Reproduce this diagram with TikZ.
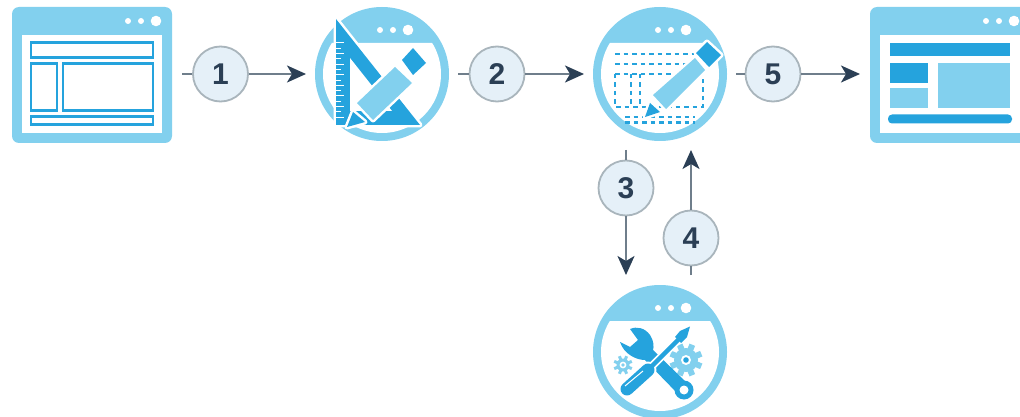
\documentclass[tikz,border=0pt]{standalone}
\usepackage{fontspec}
\setmainfont{Liberation Sans}
\usetikzlibrary{arrows.meta}
\definecolor{lightb}{HTML}{82D0EE}
\definecolor{darkb}{HTML}{25A3DD}
\definecolor{ink}{HTML}{2B3F55}
\definecolor{conn}{HTML}{6F7E8B}
\definecolor{badgefill}{HTML}{E5F0F8}
\definecolor{badgeline}{HTML}{A9B5BC}
\tikzset{
  x=1pt,y=-1pt,
  numbadge/.style={circle,draw=badgeline,fill=badgefill,line width=1.8pt,minimum size=55pt,inner sep=0pt,
    font=\fontsize{30}{30}\selectfont\bfseries,text=ink},
  anchorwin/.style={rectangle,minimum width=160pt,minimum height=136pt,inner sep=0pt,outer sep=#1},
  anchorcirc/.style={circle,minimum size=134pt,inner sep=0pt,outer sep=#1},
  stub/.style={draw=conn,line width=2pt},
  arrowline/.style={draw=conn,line width=2pt,-{Stealth[length=19pt,width=17pt,inset=5pt,color=ink]}},
  outl/.style={draw=darkb,line width=2.2pt,fill=white},
  halofill/.style={fill=#1,preaction={draw=white,line width=5pt,line join=round}},
  griddash/.style={draw=darkb,line width=2.2pt,dash pattern=on 4.5pt off 4pt},
  dotmark/.style={fill=white,draw=none},
  circicon/.pic={
    \fill[lightb] (0,0) circle[radius=67];
    \begin{scope}
      \clip (0,0) circle[radius=59];
      \fill[white,rounded corners=5pt] (-70,-31) rectangle (70,70);
    \end{scope}
    \fill[dotmark] (-2,-44) circle[radius=3];
    \fill[dotmark] (11,-44) circle[radius=3];
    \fill[dotmark] (26,-44) circle[radius=5.3];
  },
  winicon/.pic={
    \fill[lightb,rounded corners=7pt] (0,0) rectangle (160,136);
    \fill[white] (10,28) rectangle (150,126);
    \fill[dotmark] (116,14) circle[radius=3];
    \fill[dotmark] (129,14) circle[radius=3];
    \fill[dotmark] (144,14) circle[radius=5.3];
  },
}
\newcommand{\geartool}[5]{% x y r R toothwidth
  \foreach \a in {0,45,...,315}{
    \draw[lightb,line width=#5pt] (#1,#2) -- ({#1+#4*cos(\a+22.5)},{#2+#4*sin(\a+22.5)});
  }
  \fill[lightb] (#1,#2) circle[radius=#3];
}
\begin{document}
\begin{tikzpicture}
\path[use as bounding box,clip] (0,0) rectangle (1020,417);
\fill[white] (0,0) rectangle (1020,417);

% ---- window 1
\pic at (12,7) {winicon};
\draw[outl] (31,42.5) rectangle (153,57.5);
\draw[outl] (31,63.5) rectangle (57,110.5);
\draw[outl] (63,63.5) rectangle (153,110.5);
\draw[outl] (31,116.5) rectangle (153,124.5);

% ---- icon 2: set square and pencil
\pic at (382,74) {circicon};
\path[halofill=darkb] (336,19) -- (420,125) -- (336,125) -- cycle;
\fill[white] (350,58) -- (350,111) -- (392,111) -- cycle;
\foreach \yy [count=\i] in {43,48.3,...,121}{
  \pgfmathparse{int(mod(\i,2))}
  \ifnum\pgfmathresult=1
    \draw[white,line width=1pt] (336,\yy) -- (344,\yy);
  \else
    \draw[white,line width=1pt] (336,\yy) -- (341,\yy);
  \fi
}
\path[halofill=darkb] (402,60) -- (413,48) -- (426,63) -- (413,75) -- cycle;
\path[halofill=lightb] (357,103) -- (395,67) -- (412,83) -- (373,120) -- cycle;
\path[halofill=darkb] (353,112) -- (365,122) -- (347,127) -- cycle;

% ---- icon 3: dashed layout and pencil
\pic at (660,74) {circicon};
\draw[griddash] (615,54) -- (697,54);
\draw[griddash] (615,64) -- (697,64);
\draw[griddash] (615,74) -- (672,74);
\draw[griddash] (615,74) -- (615,107) -- (703,107) -- (703,74);
\draw[griddash] (631,74) -- (631,107);
\draw[griddash] (640,74) -- (640,107);
\draw[griddash] (625,117) -- (695,117);
\draw[griddash] (625,122.5) -- (695,122.5);
\path[halofill=darkb] (696,53) -- (707,42) -- (721,55) -- (709,67) -- cycle;
\path[halofill=lightb] (653,95) -- (695,58) -- (705,70) -- (666,109) -- cycle;
\path[halofill=darkb] (650,103) -- (660,112) -- (645,117) -- cycle;

% ---- window 5
\pic at (870,7) {winicon};
\fill[darkb] (890,43) rectangle (1010,56);
\fill[darkb] (890,63) rectangle (928,83);
\fill[lightb] (890,88) rectangle (928,108);
\fill[lightb] (938,63) rectangle (1010,108);
\fill[darkb,rounded corners=4pt] (888,114.5) rectangle (1012,123.5);

% ---- icon 4: tools and gears
\pic at (660,352) {circicon};
\geartool{686}{360}{12}{16.5}{6}
\fill[white] (686,360) circle[radius=5];
\fill[darkb] (686,360) circle[radius=2.8];
\geartool{623}{365}{6.5}{9.5}{3}
\fill[white] (623,365) circle[radius=3.4];
\fill[lightb] (623,365) circle[radius=1.8];
% wrench
\fill[darkb] (620,342) -- (630,347) -- (638,340) -- (630,329) .. controls (637,326) and (645,328) .. (650,335)
  .. controls (654,341) and (654,347) .. (653,350) -- (688,384) -- (678,394) -- (645,360)
  .. controls (636,360) and (624,354) .. (620,342) -- cycle;
\fill[darkb] (684,390) circle[radius=9.5];
\fill[white] (684,390) circle[radius=4.5];
% screwdriver
\draw[white,line width=8pt] (650,368) -- (681,337);
\draw[white,line width=17pt,line cap=round] (627,389) -- (648,370);
\draw[darkb,line width=4.5pt] (648,370) -- (680,338);
\draw[darkb,line width=13pt,line cap=round] (627,389) -- (648,370);
\fill[darkb] (675,337) -- (680,331) -- (690,326.5) -- (687,337) -- (681,343) -- cycle;
\draw[white,line width=1pt] (625,386) -- (643,371);

% ---- invisible layout nodes for connector ends
\node[anchorwin=10pt] (winA) at (92,75) {};
\node[anchorcirc=9pt] (iconB) at (382,74) {};
\node[anchorcirc=9pt] (iconC) at (660,74) {};
\node[anchorwin=10pt] (winD) at (950,75) {};
\node[anchorcirc=10pt] (iconE) at (660,352) {};

% ---- numbered badges
\node[numbadge] (n1) at (220.5,74) {1};
\node[numbadge] (n2) at (497,74) {2};
\node[numbadge] (n5) at (773,74) {5};
\node[numbadge] (n3) at (626,188) {3};
\node[numbadge] (n4) at (691,238) {4};

% ---- connectors
\draw[stub] (winA.east |- n1) -- (n1.west);
\draw[arrowline] (n1.east) -- (iconB.west);
\draw[stub] (iconB.east) -- (n2.west);
\draw[arrowline] (n2.east) -- (iconC.west);
\draw[stub] (iconC.east) -- (n5.west);
\draw[arrowline] (n5.east) -- (winD.west |- n5);
\draw[stub] (n3 |- iconC.south) -- (n3.north);
\draw[arrowline] (n3.south) -- (n3 |- iconE.north);
\draw[stub] (n4 |- iconE.north) -- (n4.south);
\draw[arrowline] (n4.north) -- (n4 |- iconC.south);
\end{tikzpicture}
\end{document}
